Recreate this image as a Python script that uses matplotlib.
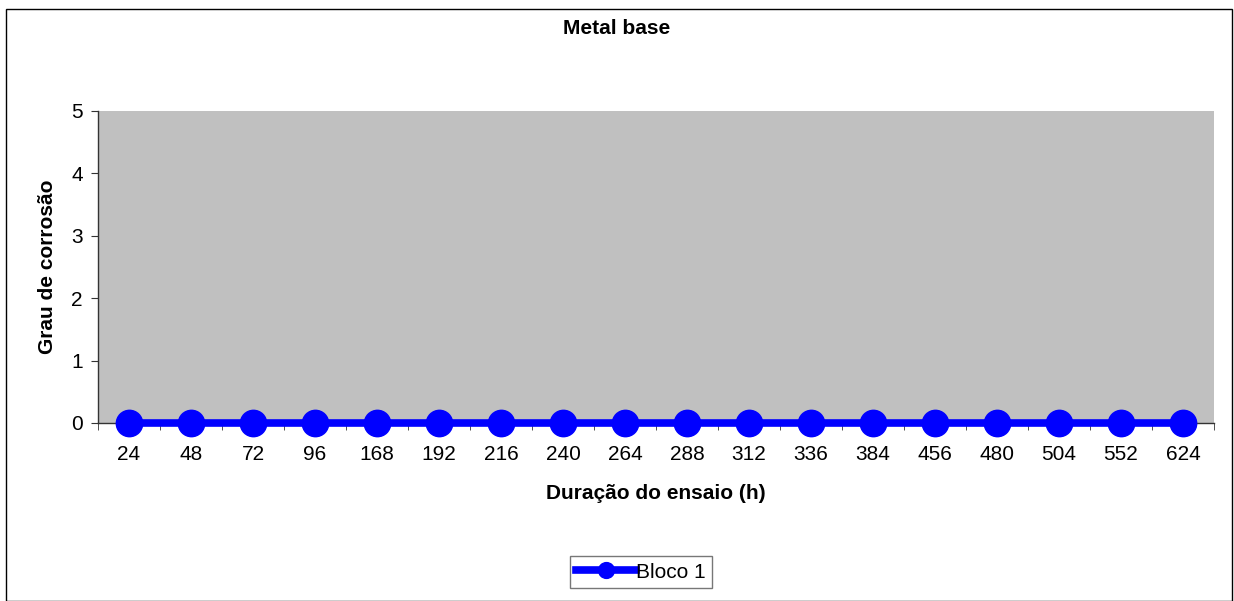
import matplotlib
matplotlib.use("Agg")
import matplotlib.pyplot as plt
from matplotlib.patches import Rectangle
import numpy as np

categories = ["24", "48", "72", "96", "168", "192", "216", "240", "264", "288",
              "312", "336", "384", "456", "480", "504", "552", "624"]
bloco1 = [0, 0, 0, 0, 0, 0, 0, 0, 0, 0, 0, 0, 0, 0, 0, 0, 0, 0]
yticks = [0, 1, 2, 3, 4, 5]

plt.rcParams['font.family'] = ['Liberation Sans', 'DejaVu Sans']
FS = 15

fig = plt.figure(figsize=(12.34, 6.01), dpi=100)
fig.patch.set_facecolor('white')
fig.patches.append(Rectangle((6/1234, 0.5/601), 1226/1234, 592/601, transform=fig.transFigure,
                             fill=False, edgecolor='black', linewidth=1.0))

ax = fig.add_axes([98/1234, 1-423/601, (1214-98)/1234, (423-111)/601])
ax.set_facecolor('#C0C0C0')
x = np.arange(len(categories))
ax.plot(x, bloco1, color='#0000FF', linewidth=5.5, marker='o', markersize=19,
        label='Bloco 1', clip_on=False, zorder=5)
ax.set_xlim(-0.5, len(categories) - 0.5)
ax.set_ylim(0, 5)
ax.set_yticks(yticks)
ax.set_xticks(x)
ax.set_xticklabels(categories)
ax.set_xticks(np.arange(-0.5, len(categories), 1), minor=True)
ax.tick_params(axis='x', which='major', length=0, labelsize=FS, pad=16)
ax.tick_params(axis='x', which='minor', length=5, direction='out', color='#333333')
ax.tick_params(axis='y', length=5, direction='out', labelsize=FS, color='#333333', pad=6)
for s in ['top', 'right']:
    ax.spines[s].set_visible(False)
for s in ['left', 'bottom']:
    ax.spines[s].set_color('#333333')
    ax.spines[s].set_linewidth(1.0)

ax.set_xlabel('Duração do ensaio (h)', fontsize=FS, fontweight='bold', labelpad=14)
ax.set_ylabel('Grau de corrosão', fontsize=FS, fontweight='bold', labelpad=10)
fig.text(0.5, 1-28/601, 'Metal base', ha='center', va='center', fontsize=FS, fontweight='bold')

leg = fig.legend(loc='center', bbox_to_anchor=(641/1234, 1-572/601), fontsize=FS,
                 frameon=True, fancybox=False, edgecolor='#555555', handlelength=2.9,
                 handletextpad=0.0, borderpad=0.3, borderaxespad=0, markerscale=0.6)
leg.get_frame().set_linewidth(1.0)

fig.savefig('out.png', dpi=100)
